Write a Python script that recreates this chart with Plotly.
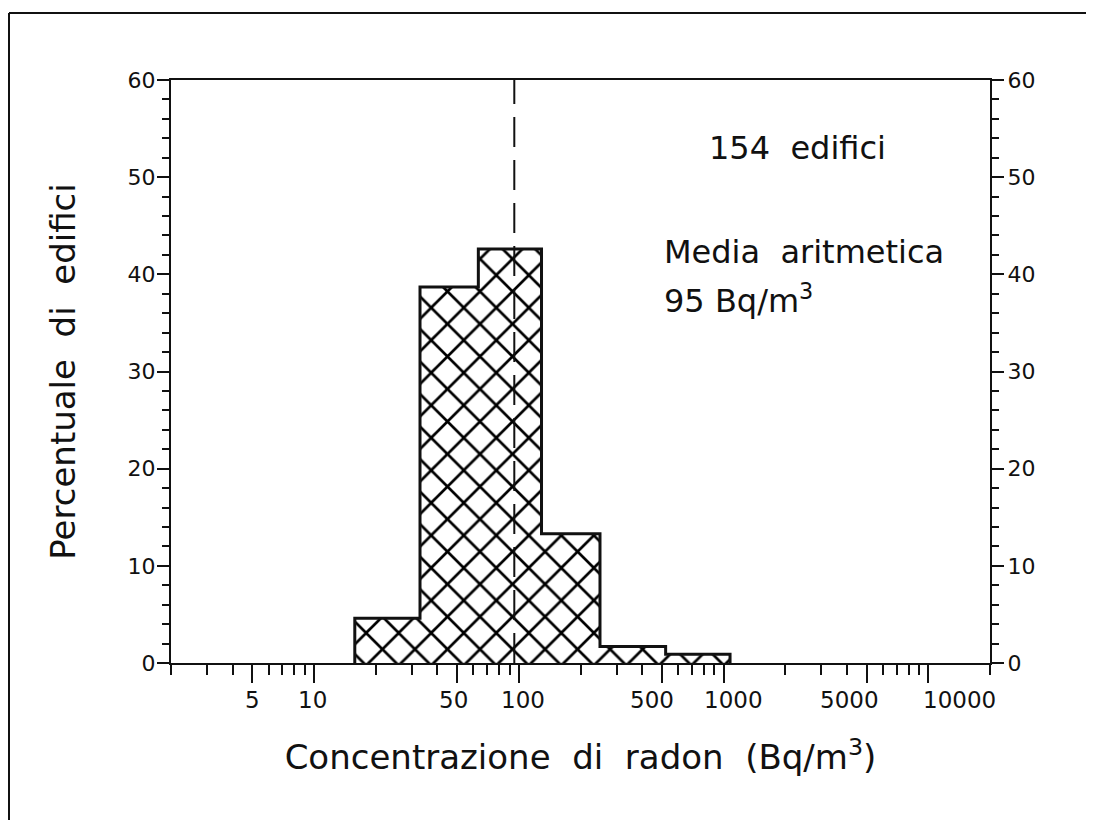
import math
import plotly.graph_objects as go

# ---- data ----
bin_edges = [15.8, 32.9, 63.4, 129, 249, 521, 1075]          # Bq/m3 (log-spaced bins)
percent = [4.6, 38.7, 42.6, 13.3, 1.7, 0.9]                   # % of buildings
mean_value = 95                                               # arithmetic mean Bq/m3
n_buildings = 154
x_tick_vals = [5, 10, 50, 100, 500, 1000, 5000, 10000]
x_tick_text = ["5", "10", "50", "100", "500", "1000", "5000", "10000"]
x_minor_vals = [2, 3, 4, 6, 7, 8, 9, 20, 30, 40, 60, 70, 80, 90,
                200, 300, 400, 600, 700, 800, 900,
                2000, 3000, 4000, 6000, 7000, 8000, 9000, 20000]
y_tick_vals = [0, 10, 20, 30, 40, 50, 60]
x_range = [2, 20000]
y_range = [0, 60]

# style: the plotter placed some x labels slightly off-centre (px)
x_label_shift = [0, -2, -4, 4, -10, 10, -17, 31]

FONT = "DejaVu Sans"
INK = "#111111"

# step outline of the histogram
xs, ys = [bin_edges[0]], [0]
for i, v in enumerate(percent):
    xs += [bin_edges[i], bin_edges[i + 1]]
    ys += [v, v]
xs.append(bin_edges[-1])
ys.append(0)

fig = go.Figure()
fig.add_trace(go.Scatter(
    x=xs, y=ys, mode="lines", fill="toself",
    line=dict(color=INK, width=3),
    fillcolor="white",
    fillpattern=dict(shape="x", size=23, solidity=0.22, fillmode="replace",
                     fgcolor="#000000", fgopacity=1, bgcolor="white"),
    hoverinfo="skip", showlegend=False,
))
fig.add_trace(go.Scatter(
    x=[mean_value, mean_value], y=y_range, mode="lines",
    line=dict(color=INK, width=2, dash="30px,13px"),
    yaxis="y2", hoverinfo="skip", showlegend=False,
))

axis_common = dict(showgrid=False, zeroline=False, showline=True,
                   linecolor=INK, linewidth=2, tickcolor=INK, tickwidth=2)

# x tick labels as annotations at the tick values (allows the plotter's offsets)
tick_annos = [
    dict(text=t, xref="x", yref="paper", x=math.log10(v), y=-0.0635,
         xshift=s, xanchor="center", yanchor="middle", showarrow=False,
         font=dict(family=FONT, size=23, color=INK))
    for v, t, s in zip(x_tick_vals, x_tick_text, x_label_shift)
]

# page body has an 8px margin, so the figure is drawn 8px right/down
fig.update_layout(
    width=1086, height=812,
    paper_bgcolor="white", plot_bgcolor="white",
    margin=dict(l=163, r=104, t=72, b=157),
    font=dict(family=FONT, color=INK),
    xaxis=dict(
        type="log",
        range=[math.log10(x_range[0]), math.log10(x_range[1])],
        tickmode="array", tickvals=x_tick_vals, ticktext=x_tick_text,
        showticklabels=False,
        ticks="outside", ticklen=18, mirror=True,
        minor=dict(tickmode="array", tickvals=x_minor_vals, ticks="outside",
                   ticklen=10, tickwidth=2, tickcolor=INK),
        title=dict(text="Concentrazione\u00a0 di\u00a0 radon\u00a0 (Bq/m<sup>3</sup>)",
                   font=dict(family=FONT, size=34, color=INK), standoff=63),
        **axis_common,
    ),
    yaxis=dict(
        range=y_range, tickmode="array", tickvals=y_tick_vals,
        ticks="outside", ticklen=12, ticklabelstandoff=-3,
        tickfont=dict(family=FONT, size=22, color=INK),
        minor=dict(dtick=2, ticks="outside", ticklen=7, tickwidth=2, tickcolor=INK),
        title=dict(text="Percentuale\u00a0 di\u00a0 edifici",
                   font=dict(family=FONT, size=34, color=INK), standoff=42),
        **axis_common,
    ),
    yaxis2=dict(
        range=y_range, overlaying="y", side="right",
        tickmode="array", tickvals=y_tick_vals,
        ticks="outside", ticklen=12, ticklabelstandoff=-1,
        tickfont=dict(family=FONT, size=22, color=INK),
        minor=dict(dtick=2, ticks="outside", ticklen=7, tickwidth=2, tickcolor=INK),
        **axis_common,
    ),
    annotations=tick_annos + [
        dict(text=f"{n_buildings}\u00a0 edifici", xref="paper", yref="paper",
             x=0.7644, y=0.883, xanchor="center", yanchor="middle", showarrow=False,
             font=dict(family=FONT, size=32, color=INK)),
        dict(text="Media\u00a0 aritmetica", xref="paper", yref="paper",
             x=0.6000, y=0.705, xanchor="left", yanchor="middle", showarrow=False,
             font=dict(family=FONT, size=32, color=INK)),
        dict(text=f"{mean_value} Bq/m<sup>3</sup>", xref="paper", yref="paper",
             x=0.6000, y=0.624, xanchor="left", yanchor="middle", showarrow=False,
             font=dict(family=FONT, size=32, color=INK)),
    ],
    shapes=[
        dict(type="line", xref="paper", yref="paper", x0=-0.1978, x1=1.2,
             y0=1.115, y1=1.115, line=dict(color=INK, width=2)),
        dict(type="line", xref="paper", yref="paper", x0=-0.1978, x1=-0.1978,
             y0=1.115, y1=-0.3, line=dict(color=INK, width=2)),
    ],
)

fig.write_html("out.html")
